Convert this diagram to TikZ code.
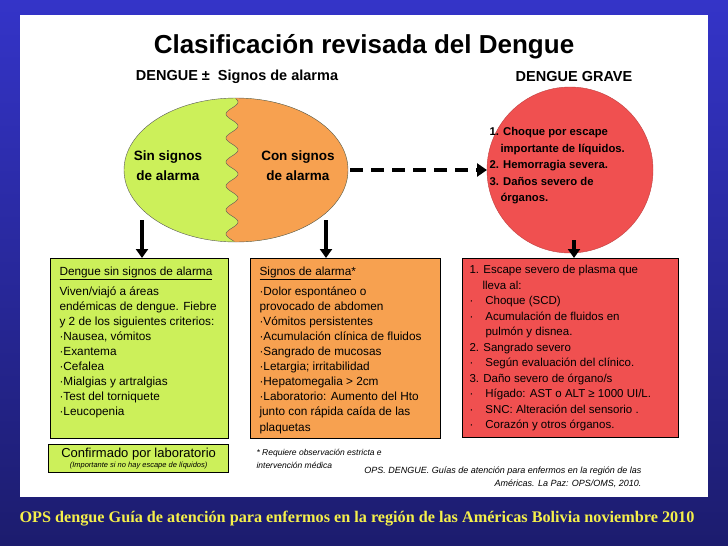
\documentclass[tikz,border=0pt]{standalone}
\usepackage{fontspec}
\setmainfont{Liberation Sans}
\newfontfamily\timesfont{Liberation Serif}
\usetikzlibrary{arrows.meta}
\definecolor{lime}{HTML}{CCF05A}
\definecolor{naranja}{HTML}{F7A150}
\definecolor{rojo}{HTML}{F05050}
\definecolor{marino}{HTML}{1C1C6E}
\definecolor{azul}{HTML}{3434C8}
\definecolor{amarillo}{HTML}{F5F04A}

\begin{document}
\begin{tikzpicture}[x=1pt,y=-1pt,
    caja/.style={draw=black, line width=1.2pt, anchor=north west, inner sep=0pt},
    texto/.style={align=left, anchor=north west, font=\fontsize{11.8}{15.1}\selectfont},
    flecha/.style={line width=3.2pt, -{Triangle[length=9pt,width=12pt]}}]
                \useasboundingbox (0,0) rectangle (728,546);
                \shade[top color=azul, bottom color=marino] (0,0) rectangle (728,546);
                \fill[white] (20,15) rectangle (708,497);
                \node[font=\bfseries\fontsize{26}{28}\selectfont] (titulo) at (364,47) {Clasificación revisada del Dengue};
                \node[font=\bfseries\fontsize{14.5}{16}\selectfont] (cabizq) at (237,77) {DENGUE ±\ \ Signos de alarma};
                \node[font=\bfseries\fontsize{14.5}{16}\selectfont] (cabder) at (574,77) {DENGUE GRAVE};
                % ellipse with wavy split
                \fill[lime] (236,170) ellipse [x radius=112, y radius=72];
                \begin{scope}
                    \clip (236,170) ellipse [x radius=112, y radius=72];
                    \fill[naranja] plot[domain=96:246, samples=120] ({232+6*sin(\x*15)}, \x) -- (360,246) -- (360,96) -- cycle;
                \end{scope}
                \draw[gray!70!black] (236,170) ellipse [x radius=112, y radius=72];
                \draw[gray!70!black] plot[domain=98.5:241.5, samples=120] ({232+6*sin(\x*15)}, \x);
                \node[font=\bfseries\fontsize{13.5}{20}\selectfont, align=center] (sin) at (168,166) {Sin signos\\de alarma};
                \node[font=\bfseries\fontsize{13.5}{20}\selectfont, align=center] (con) at (298,166) {Con signos\\de alarma};
                % severe circle
                \draw[rojo!80!black, fill=rojo] (570,170) circle (83);
                \node[font=\bfseries\fontsize{11.3}{16.5}\selectfont, align=left, anchor=north west] (grave) at (486,124)
                    {1. Choque por escape\\\hspace*{11pt}importante de líquidos.\\2. Hemorragia severa.\\3. Daños severo de\\\hspace*{11pt}órganos.};
                \coordinate (elider) at (350,170);
                \coordinate (circizq) at (487,170);
                \draw[line width=4pt, dash pattern=on 13pt off 8pt, -{Triangle[length=10pt,width=13pt]}] (elider) -- (circizq);
                % boxes
                \node[caja, fill=lime, minimum width=178pt, minimum height=180pt] (verde) at (50,258) {};
                \node[caja, fill=naranja, minimum width=190pt, minimum height=180pt] (naranja) at (250,258) {};
                \node[caja, fill=rojo, minimum width=216pt, minimum height=179pt] (rojo) at (462,258) {};
                \node[caja, fill=lime, minimum width=180pt, minimum height=28pt] (confirmado) at (48,444) {};
                \draw[flecha] (142,220) -- (verde.north -| 142,0);
                \draw[flecha] (326,220) -- (naranja.north -| 326,0);
                \draw[flecha] (574,240) -- (rojo.north -| 574,0);
                \node[texto] (tverde) at (56,263) {\underline{Dengue sin signos de alarma}\\[5pt]
                    Viven/viajó a áreas\\endémicas de dengue. Fiebre\\y 2 de los siguientes criterios:\\
                    ·Nausea, vómitos\\·Exantema\\·Cefalea\\·Mialgias y artralgias\\·Test del torniquete\\·Leucopenia};
                \node[texto] (tnaranja) at (256,263) {\underline{Signos de alarma}*\\[5pt]
                    ·Dolor espontáneo o\\provocado de abdomen\\·Vómitos persistentes\\·Acumulación clínica de fluidos\\
                    ·Sangrado de mucosas\\·Letargia; irritabilidad\\·Hepatomegalia > 2cm\\·Laboratorio: Aumento del Hto\\
                    junto con rápida caída de las\\plaquetas};
                \node[texto, font=\fontsize{11.5}{15.5}\selectfont] (trojo) at (466,262) {1. Escape severo de plasma que\\
                    \hspace*{13pt}lleva al:\\·\hspace{12pt}Choque (SCD)\\·\hspace{12pt}Acumulación de fluidos en\\
                    \hspace*{16pt}pulmón y disnea.\\2. Sangrado severo\\·\hspace{12pt}Según evaluación del clínico.\\
                    3. Daño severo de órgano/s\\·\hspace{12pt}Hígado: AST o ALT ≥ 1000 UI/L.\\
                    ·\hspace{12pt}SNC: Alteración del sensorio .\\·\hspace{12pt}Corazón y otros órganos.};
                \node[align=center, font=\fontsize{13}{12}\selectfont] (tconf) at (confirmado.center) {Confirmado por laboratorio\\[-2pt]{\itshape\fontsize{7.5}{7}\selectfont (Importante si no hay escape de líquidos)}};
                \node[anchor=north west, align=left, font=\itshape\fontsize{8.5}{13}\selectfont] (nota) at (253,446) {* Requiere observación estricta e\\intervención médica};
                \node[anchor=north east, align=right, font=\itshape\fontsize{9}{13}\selectfont] (cita) at (645,463) {OPS. DENGUE. Guías de atención para enfermos en la región de las\\Américas. La Paz: OPS/OMS, 2010.};
                \node[text=amarillo, font=\timesfont\bfseries\fontsize{16.2}{18}\selectfont] (pie) at (357,519) {OPS dengue Guía de atención para enfermos en la región de las Américas Bolivia noviembre 2010};
            \end{tikzpicture}
\end{document}
